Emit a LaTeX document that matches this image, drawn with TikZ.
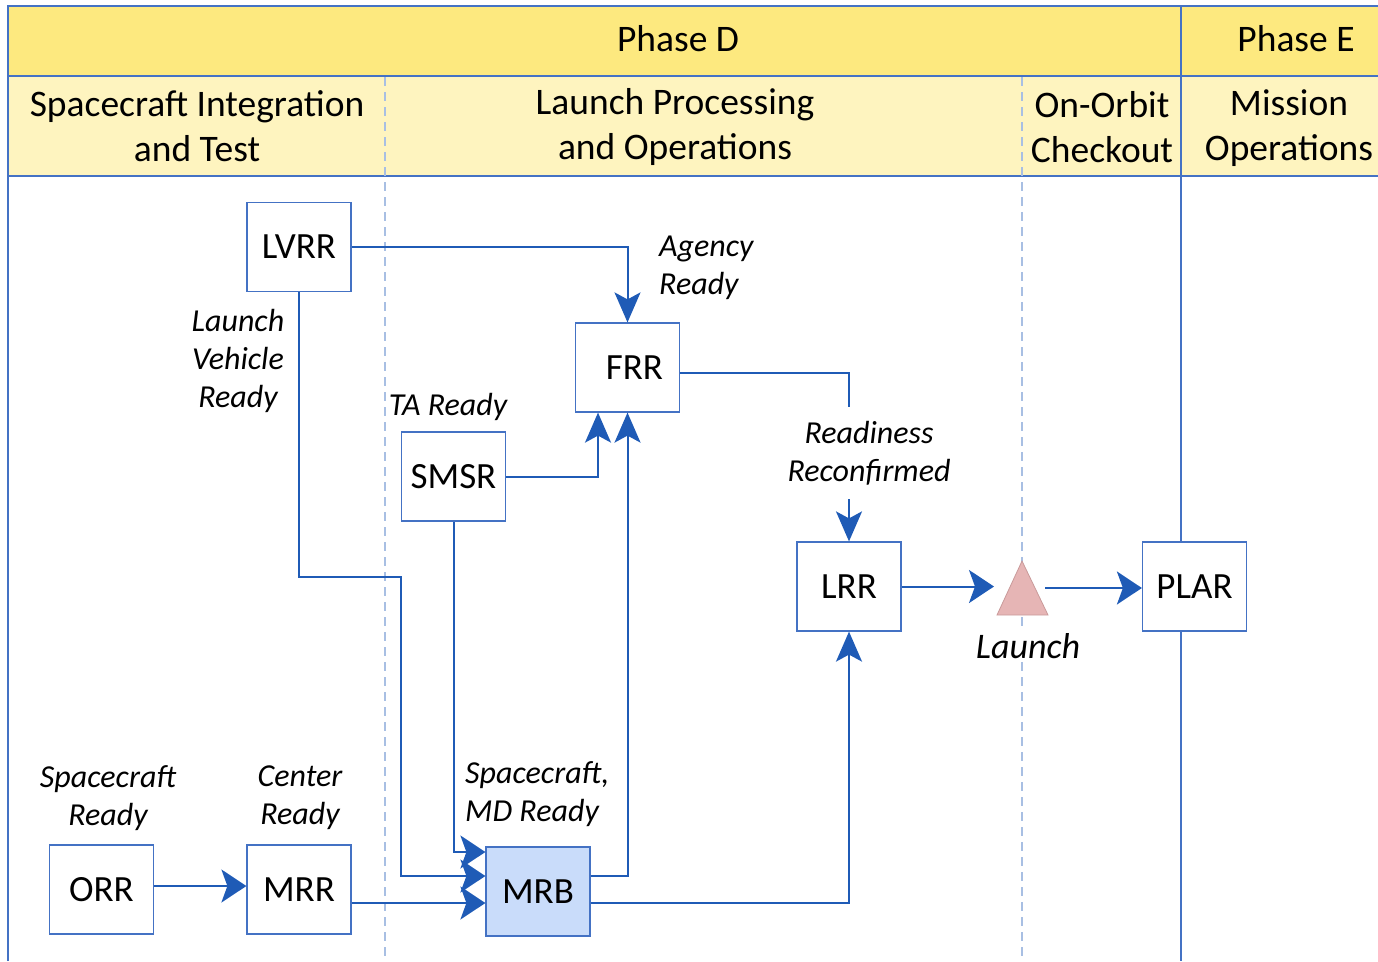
\documentclass[tikz,border=0pt]{standalone}
\usepackage{fontspec}
\setmainfont{Carlito}
\usetikzlibrary{arrows.meta,calc}
\definecolor{ln}{HTML}{1F5BB6}
\definecolor{frm}{HTML}{4472C4}
\definecolor{dsh}{HTML}{A8BFE3}
\definecolor{hdrA}{HTML}{FDE97F}
\definecolor{hdrB}{HTML}{FEF4BF}
\definecolor{mrbfill}{HTML}{C9DCFA}
\definecolor{trifill}{HTML}{E6B5B5}
\definecolor{triedge}{HTML}{C99A9A}
\tikzset{
  box/.style={draw=frm, line width=1.2pt, fill=white, minimum width=104pt, minimum height=89pt, inner sep=0pt, font=\fontsize{37}{44}\selectfont},
  conn/.style={draw=ln, line width=2pt},
  harr/.style={conn, -{Stealth[length=25pt, width=33pt, inset=6pt]}},
  varr/.style={conn, -{Stealth[length=30pt, width=26pt, inset=7pt]}},
  lbl/.style={font=\fontsize{32}{38}\selectfont\itshape, inner sep=2pt},
  hdr/.style={font=\fontsize{37.5}{45}\selectfont, align=center, inner sep=0pt},
  frame/.style={draw=frm, line width=1.3pt},
  dashline/.style={draw=dsh, line width=1.3pt, dash pattern=on 9pt off 6pt},
}
\begin{document}
\begin{tikzpicture}[x=1pt,y=-1pt]
\useasboundingbox (0,0) rectangle (1378,961);
% header backgrounds
\fill[hdrA] (8,6) rectangle (1378,76);
\fill[hdrB] (8,76) rectangle (1378,176);
\draw[frame] (8,961) -- (8,6) -- (1378,6);
\draw[frame] (8,76) -- (1378,76);
\draw[frame] (8,176) -- (1378,176);
\draw[frame] (1181,6) -- (1181,961);
\draw[dashline] (385,77) -- (385,961);
\draw[dashline] (1022,77) -- (1022,961);
% header texts
\node[hdr] (phD) at (678,39) {Phase D};
\node[hdr] (phE) at (1296,39) {Phase E};
\node[hdr] (sit) at (197,126) {Spacecraft Integration\\and Test};
\node[hdr] (lpo) at (675,127) {Launch Processing\\and Operations};
\node[hdr] (ooc) at (1102,127) {On-Orbit\\Checkout};
\node[hdr] (mop) at (1289,128) {Mission\\Operations};
% boxes
\node[box] (LVRR) at (299,247) {LVRR};
\node[box] (FRR) at (627.5,367.5) {\hspace*{14pt}\raisebox{-3pt}{FRR}};
\node[box] (SMSR) at (453.5,476.5) {\raisebox{-3pt}{SMSR}};
\node[box] (LRR) at (849,586.5) {LRR};
\node[box] (PLAR) at (1194.5,586.5) {PLAR};
\node[box] (ORR) at (101.5,889.5) {\raisebox{-2pt}{ORR}};
\node[box] (MRR) at (299,889.5) {MRR};
\node[box, fill=mrbfill] (MRB) at (538,891.5) {MRB};
% launch triangle
\filldraw[fill=trifill, draw=triedge, line width=0.8pt] (997,615) -- (1022,561) -- (1048,615) -- cycle;
\coordinate (triW) at (994,586.5);
\coordinate (triE) at (1045,588);
% connectors
\draw[varr] (LVRR.east) -| (FRR.north);
\draw[varr] ($(FRR.east)+(0,5)$) -| (LRR.north);
\draw[varr] (SMSR.east) -| ($(FRR.south)+(-29.5,0)$);
\draw[varr] ($(MRB.east)+(0,-15.5)$) -| (FRR.south);
\draw[varr] ($(MRB.east)+(0,11.5)$) -| (LRR.south);
\draw[harr] (LVRR.south) -- (299,577) -- (401,577) |- ($(MRB.west)+(0,-15.5)$);
\draw[harr] (SMSR.south) |- ($(MRB.west)+(0,-39.5)$);
\draw[harr] (MRR.east |- 0,903) -- (MRB.west |- 0,903);
\draw[harr] (ORR.east |- 0,886) -- (MRR.west |- 0,886);
\draw[harr] (LRR.east) -- (triW);
\draw[harr] (triE) -- (PLAR.west |- triE);
% labels
\node[lbl, align=center] (lvr) at (238,361) {Launch\\Vehicle\\Ready};
\node[lbl, align=left, anchor=west] (agr) at (657,268) {Agency\\Ready};
\node[lbl] (tar) at (448,407) {TA Ready};
\node[lbl, align=center, fill=white, inner ysep=14pt] (rrc) at (869,453) {Readiness\\Reconfirmed};
\node[lbl, align=center] (scr) at (108,798) {Spacecraft\\Ready};
\node[lbl, align=center] (ctr) at (300,798) {Center\\Ready};
\node[lbl, align=left, anchor=west] (smd) at (463,794) {Spacecraft,\\MD Ready};
\node[lbl, fill=white, font=\fontsize{36}{43}\selectfont\itshape] (lch) at (1028,646) {Launch};
\end{tikzpicture}
\end{document}
